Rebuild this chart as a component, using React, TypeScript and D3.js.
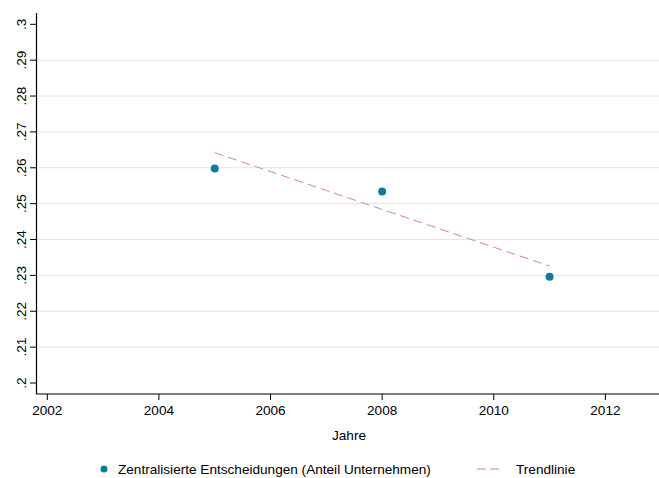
import React from "react";
import * as d3 from "d3";

const years = [2005, 2008, 2011];
const shares = [0.2598, 0.2534, 0.2296];
const trendYears = [2005, 2011];
const trendValues = [0.2642, 0.2326];
const xTicks = [2002, 2004, 2006, 2008, 2010, 2012];
const yTicks = [0.2, 0.21, 0.22, 0.23, 0.24, 0.25, 0.26, 0.27, 0.28, 0.29, 0.3];
const yTickLabels = [".2", ".21", ".22", ".23", ".24", ".25", ".26", ".27", ".28", ".29", ".3"];
const seriesLabel = "Zentralisierte Entscheidungen (Anteil Unternehmen)";
const trendLabel = "Trendlinie";
const xTitle = "Jahre";

const W = 659;
const H = 478;
const left = 37;
const top = 13;
const bottom = 394;
const right = 659;
const fs = 13.6;

const font = "'Liberation Sans', Arial, Helvetica, sans-serif";
const teal = "#0a7d98";
const pink = "#d97bbb";

export default function App() {
  const x = d3.scaleLinear().domain([2002, 2012]).range([47.3, 605.4]);
  const y = d3.scaleLinear().domain([0.2, 0.3]).range([383, 24.3]);
  const line = d3
    .line<number>()
    .x((_, i) => x(trendYears[i]))
    .y((d) => y(d));

  return (
    <svg
      width={W}
      height={H}
      style={{ position: "absolute", left: 0, top: 0, background: "#fff" }}
      fontFamily={font}
    >
      <rect x={0} y={0} width={W} height={H} fill="#fff" />
      {yTicks.slice(1, -1).map((t) => (
        <line
          key={"g" + t}
          x1={left}
          x2={right}
          y1={y(t)}
          y2={y(t)}
          stroke="#e4e4e4"
          strokeWidth={1}
        />
      ))}
      <line x1={left - 0.5} x2={left - 0.5} y1={top} y2={bottom} stroke="#000" strokeWidth={1.2} />
      {yTicks.map((t, i) => (
        <g key={"y" + t}>
          <line x1={30} x2={left} y1={y(t)} y2={y(t)} stroke="#000" strokeWidth={1} />
          <text
            transform={`translate(25.5,${y(t)}) rotate(-90)`}
            textAnchor="middle"
            fontSize={fs}
            fill="#000"
          >
            {yTickLabels[i]}
          </text>
        </g>
      ))}
      <line x1={left - 1} x2={right} y1={bottom} y2={bottom} stroke="#000" strokeWidth={1.2} />
      {xTicks.map((t) => (
        <g key={"x" + t}>
          <line x1={x(t)} x2={x(t)} y1={bottom} y2={bottom + 6} stroke="#000" strokeWidth={1} />
          <text x={x(t)} y={415} textAnchor="middle" fontSize={fs} fill="#000">
            {t}
          </text>
        </g>
      ))}
      <text x={349} y={440} textAnchor="middle" fontSize={fs} fill="#000">
        {xTitle}
      </text>
      <path
        d={line(trendValues) || ""}
        fill="none"
        stroke={pink}
        strokeWidth={1}
        strokeDasharray="9,5"
      />
      {years.map((yr, i) => (
        <circle key={"p" + yr} cx={x(yr)} cy={y(shares[i])} r={4} fill={teal} />
      ))}
      <circle cx={104} cy={469} r={3.5} fill={teal} />
      <text x={118} y={474} fontSize={fs} fill="#000">
        {seriesLabel}
      </text>
      <line
        x1={477}
        x2={502}
        y1={469}
        y2={469}
        stroke={pink}
        strokeWidth={1}
        strokeDasharray="9,4"
      />
      <text x={516} y={474} fontSize={fs} fill="#000">
        {trendLabel}
      </text>
    </svg>
  );
}
